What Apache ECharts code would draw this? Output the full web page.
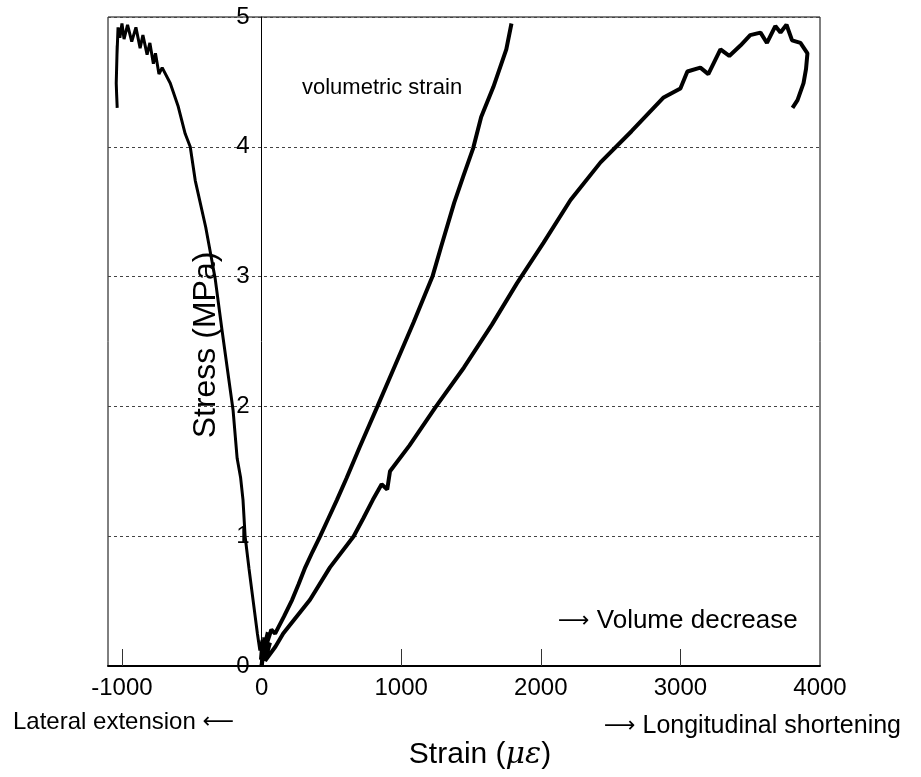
<!DOCTYPE html>
<html>
<head>
<meta charset="utf-8">
<script src="https://cdn.jsdelivr.net/npm/echarts@6/dist/echarts.min.js"></script>
<style>html,body{margin:0;padding:0;background:#fff}#c{width:921px;height:777px}</style>
</head>
<body>
<div id="c"></div>
<script>
// Tick labels
const xTickValues = [-1000, 0, 1000, 2000, 3000, 4000];
const xInnerTicks = [-1000, 1000, 2000, 3000];
const yTickValues = [0, 1, 2, 3, 4, 5];

// Lateral strain (negative = lateral extension) vs stress
const lateralStrain = [0, 6, -8, 4, -12, -30, -60, -90, -118, -133, -150, -175, -204, -240, -285, -333, -400, -475, -511, -547, -597, -654, -712, -735, -760, -775, -800, -820, -850, -870, -900, -930, -960, -985, -1000, -1015, -1028, -1036, -1034, -1041, -1038, -1034];
const lateralStress = [0, 0.1, 0.05, 0.2, 0.12, 0.25, 0.5, 0.75, 1.0, 1.28, 1.45, 1.6, 1.97, 2.25, 2.6, 2.99, 3.38, 3.74, 4.0, 4.1, 4.31, 4.49, 4.61, 4.56, 4.72, 4.64, 4.80, 4.71, 4.86, 4.76, 4.92, 4.81, 4.94, 4.83, 4.95, 4.84, 4.92, 4.70, 4.78, 4.49, 4.40, 4.30];

// Volumetric strain vs stress
const volStrain = [0, 20, 5, 45, 15, 70, 97, 160, 219, 265, 313, 365, 420, 480, 540, 610, 700, 830, 950, 1090, 1224, 1286, 1380, 1444, 1516, 1573, 1660, 1753, 1790];
const volStress = [0, 0.22, 0.08, 0.26, 0.1, 0.28, 0.25, 0.38, 0.51, 0.63, 0.76, 0.88, 1.0, 1.14, 1.28, 1.45, 1.68, 2.0, 2.3, 2.65, 3.0, 3.23, 3.57, 3.77, 3.99, 4.23, 4.46, 4.75, 4.95];

// Longitudinal strain vs stress
const longStrain = [0, 30, 10, 60, 25, 100, 155, 347, 490, 660, 730, 797, 860, 900, 920, 1060, 1250, 1450, 1650, 1830, 2019, 2213, 2428, 2650, 2880, 3000, 3050, 3143, 3200, 3287, 3350, 3430, 3500, 3574, 3620, 3680, 3717, 3760, 3800, 3860, 3910, 3900, 3882, 3839, 3803];
const longStress = [0, 0.2, 0.06, 0.18, 0.04, 0.15, 0.25, 0.51, 0.76, 1.0, 1.14, 1.28, 1.4, 1.36, 1.5, 1.7, 2.0, 2.3, 2.63, 2.95, 3.26, 3.59, 3.88, 4.12, 4.38, 4.45, 4.58, 4.61, 4.56, 4.75, 4.70, 4.78, 4.86, 4.88, 4.80, 4.93, 4.88, 4.94, 4.82, 4.80, 4.72, 4.60, 4.49, 4.36, 4.30];

const zip = (a, b) => a.map((v, i) => [v, b[i]]);
const FONT = '"Liberation Sans", Arial, Helvetica, sans-serif';
const XMIN = -1100, XMAX = 4000, GL = 108, GR = 101, W = 921;
const gridW = W - GL - GR;
const zeroOffset = -(0 - XMIN) / (XMAX - XMIN) * gridW;

const chart = echarts.init(document.getElementById('c'), null, {renderer: 'canvas'});
chart.setOption({
  animation: false,
  backgroundColor: '#fff',
  grid: {left: GL, top: 17, right: GR, bottom: 111, show: true, borderColor: '#000', borderWidth: 1, backgroundColor: 'transparent'},
  xAxis: {
    type: 'value', min: XMIN, max: XMAX,
    axisLine: {show: true, onZero: false, lineStyle: {color: '#000', width: 2}},
    axisTick: {show: true, inside: true, length: 17, customValues: xInnerTicks, lineStyle: {color: '#333', width: 1}},
    axisLabel: {customValues: xTickValues, fontSize: 24, color: '#000', margin: 10, fontFamily: FONT, formatter: v => String(v)},
    splitLine: {show: false}
  },
  yAxis: {
    type: 'value', min: 0, max: 5, interval: 1, position: 'left', offset: zeroOffset,
    axisLine: {show: true, onZero: false, lineStyle: {color: '#000', width: 1}},
    axisTick: {show: false},
    axisLabel: {customValues: yTickValues, fontSize: 24, color: '#000', margin: 12, fontFamily: FONT, formatter: v => String(v)},
    splitLine: {show: true, lineStyle: {color: '#444', width: 1, type: [3, 3]}}
  },
  series: [
    {type: 'line', data: zip(lateralStrain, lateralStress), showSymbol: false, lineStyle: {color: '#000', width: 3}, z: 5},
    {type: 'line', data: zip(volStrain, volStress), showSymbol: false, lineStyle: {color: '#000', width: 4}, z: 5},
    {type: 'line', data: zip(longStrain, longStress), showSymbol: false, lineStyle: {color: '#000', width: 4}, z: 5}
  ],
  graphic: [
    {type: 'text', left: 302, top: 77, style: {text: 'volumetric strain', fontSize: 22, fill: '#000', fontFamily: FONT}},
    {type: 'text', left: 558, top: 608, style: {
      text: '{r|⟶}{t| Volume decrease}',
      rich: {r: {fontSize: 22, fontFamily: '"DejaVu Sans"', fill: '#000'}, t: {fontSize: 26, fontFamily: FONT, fill: '#000'}}
    }},
    {type: 'text', left: 13, top: 710, style: {
      text: '{t|Lateral extension }{r|⟵}',
      rich: {r: {fontSize: 22, fontFamily: '"DejaVu Sans"', fill: '#000'}, t: {fontSize: 24, fontFamily: FONT, fill: '#000'}}
    }},
    {type: 'text', left: 604, top: 714, style: {
      text: '{r|⟶}{t| Longitudinal shortening}',
      rich: {r: {fontSize: 22, fontFamily: '"DejaVu Sans"', fill: '#000'}, t: {fontSize: 25, fontFamily: FONT, fill: '#000'}}
    }},
    {type: 'text', x: 480, y: 755, style: {
      text: '{a|Strain (}{b|με}{a|)}', align: 'center', verticalAlign: 'middle',
      rich: {a: {fontSize: 30, fontFamily: FONT, fill: '#000'}, b: {fontSize: 30, fontStyle: 'italic', fontFamily: '"DejaVu Serif", serif', fill: '#000'}}
    }},
    {type: 'text', x: 206, y: 345, rotation: Math.PI / 2, style: {text: 'Stress (MPa)', fontSize: 32, fill: '#000', fontFamily: FONT, align: 'center', verticalAlign: 'middle'}}
  ]
});
</script>
</body>
</html>
